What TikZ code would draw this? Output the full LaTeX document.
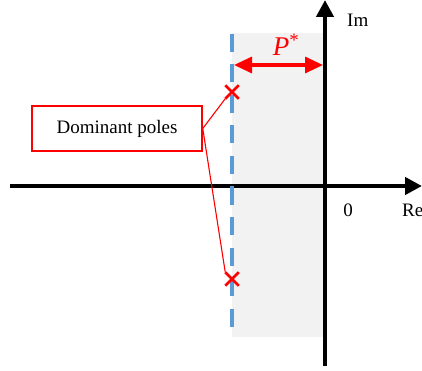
\documentclass[tikz,border=0pt]{standalone}
\usepackage{fontspec}
\setmainfont{Liberation Serif}
\usetikzlibrary{arrows.meta,shapes.misc}
\definecolor{panelgray}{HTML}{F2F2F2}
\definecolor{dashblue}{HTML}{5B9BD5}
\begin{document}
\begin{tikzpicture}[x=1pt,y=-1pt,
  axis/.style={line width=4.2pt,-{Triangle[length=17pt,width=17pt]}},
  pole/.style={cross out,draw=red,line width=2.5pt,minimum size=11pt,inner sep=0pt},
  lbl/.style={font=\rmfamily\fontsize{19}{22}\selectfont,inner sep=0pt}]
\useasboundingbox (0,0) rectangle (422,371);
\fill[panelgray] (232,33) rectangle (325,337);
% axes
\coordinate (imlow) at (325,366);
\coordinate (imtop) at (325,0);
\coordinate (releft) at (10,186);
\coordinate (reright) at (422,186);
\draw[axis] (imlow) -- (imtop);
\draw[axis] (releft) -- (reright);
\node[lbl,anchor=west] (im) at (347,20) {Im};
\node[lbl] (zero) at (348,210) {0};
\node[lbl,anchor=west] (re) at (402,210) {Re};
% stability margin
\coordinate (dtop) at (232,34);
\coordinate (dbot) at (232,337);
\draw[draw=dashblue,line width=3.5pt,dash pattern=on 18pt off 12.5pt] (dtop) -- (dbot);
\coordinate (pl) at (234,65);
\coordinate (pr) at (323,65);
\draw[red,line width=3.2pt,{Triangle[length=18pt,width=16pt]}-{Triangle[length=18pt,width=16pt]}] (pl) -- (pr);
\node[red,font=\rmfamily\fontsize{27}{30}\selectfont,inner sep=0pt] (pstar) at (286,45) {\textit{P}\textsuperscript{*}};
% poles
\node[pole] (p1) at (232,92) {};
\node[pole] (p2) at (232,279) {};
\node[draw=red,line width=1.5pt,minimum width=170pt,minimum height=45pt,
  font=\rmfamily\fontsize{19}{22}\selectfont] (dom) at (117,128.5) {Dominant poles};
\draw[red,line width=1.1pt] (dom.east) -- (p1.south west);
\draw[red,line width=1.1pt] (dom.east) -- (p2.north west);
\end{tikzpicture}
\end{document}
